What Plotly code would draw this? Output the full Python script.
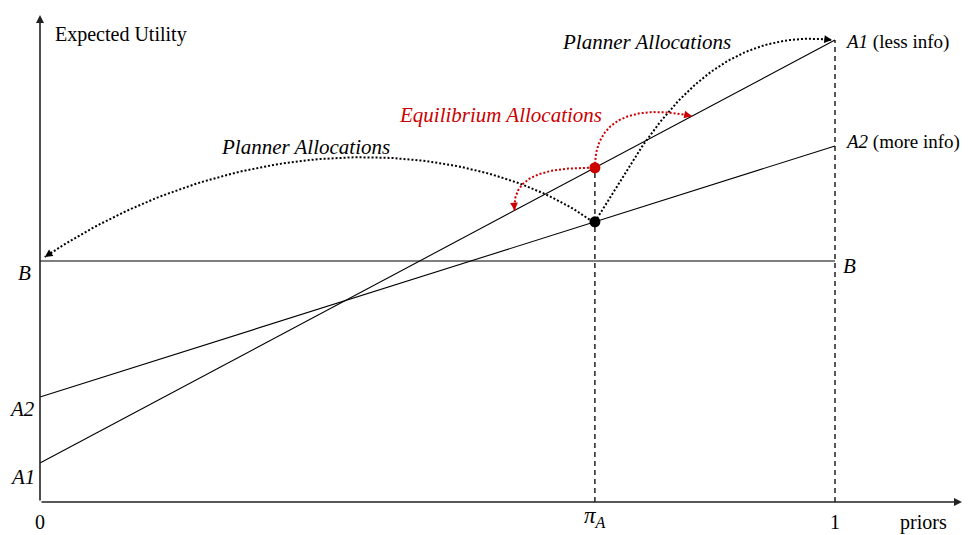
import numpy as np
import plotly.graph_objects as go

# ---- data (model values) ----
priors = [0.0, 1.0]              # prior endpoints
A1_vals = [0.39, 4.62]           # A1 (less info) utility at priors 0 and 1
A2_vals = [1.05, 3.56]           # A2 (more info) utility at priors 0 and 1
B_val = 2.41                     # B (constant)
pi_A = 0.698                     # prior pi_A
x_ticks = [0.0, pi_A, 1.0]
x_tick_labels = ["0", "<i>π<sub>A</sub></i>", "1"]

# ---- pixel <-> data mapping (screen pixels; page body has an 8px offset) ----
OFF = 8
WIN_W, WIN_H = 972, 535
W, H = WIN_W - OFF, WIN_H - OFF
X0PX, X1PX, Y0PX, YSCALE = 40, 835, 502, 100.0
def px2x(p): return (p - X0PX) / (X1PX - X0PX)
def py2y(p): return (Y0PX - p) / YSCALE
def x2px(x): return X0PX + x * (X1PX - X0PX)
def y2py(y): return Y0PX - y * YSCALE

def lin(vals, x):
    return vals[0] + (vals[1] - vals[0]) * x

A1_pi = lin(A1_vals, pi_A)
A2_pi = lin(A2_vals, pi_A)

SERIF = "Liberation Serif, Times New Roman, serif"
fig = go.Figure()

# main lines
fig.add_trace(go.Scatter(x=priors, y=[B_val, B_val], mode="lines",
                         line=dict(color="#7f7f7f", width=2), hoverinfo="skip"))
fig.add_trace(go.Scatter(x=priors, y=A1_vals, mode="lines",
                         line=dict(color="black", width=1.1), hoverinfo="skip"))
fig.add_trace(go.Scatter(x=priors, y=A2_vals, mode="lines",
                         line=dict(color="black", width=1.1), hoverinfo="skip"))
# dashed verticals
fig.add_trace(go.Scatter(x=[pi_A, pi_A], y=[0, A1_pi], mode="lines",
                         line=dict(color="black", width=1.3, dash="5px,4px"), hoverinfo="skip"))
fig.add_trace(go.Scatter(x=[1, 1], y=[0, A1_vals[1]], mode="lines",
                         line=dict(color="black", width=1.3, dash="5px,4px"), hoverinfo="skip"))

# curved dotted arrows (cubic bezier, control points in pixel space, anchored on the model points)
def bezier(p0, p1, p2, p3, n=80):
    t = np.linspace(0, 1, n)[:, None]
    P = ((1 - t) ** 3) * np.array(p0) + 3 * ((1 - t) ** 2) * t * np.array(p1) \
        + 3 * (1 - t) * t ** 2 * np.array(p2) + t ** 3 * np.array(p3)
    return P

bpt = (x2px(pi_A), y2py(A2_pi))
rpt = (x2px(pi_A), y2py(A1_pi))
curves = [
    # (start, c1, c2, end, color)
    ((bpt[0] - 2, bpt[1]), (480, 140), (250, 120), (x2px(0.006), y2py(B_val + 0.04)), "black"),
    (bpt, (640, 150), (700, 25), (x2px(1) - 3, y2py(A1_vals[1])), "black"),
    ((rpt[0], rpt[1] - 4), (597, 115), (640, 105), (x2px(0.82), y2py(lin(A1_vals, 0.82))), "#cc0000"),
    ((rpt[0] - 6, rpt[1]), (540, 168), (512, 178), (x2px(0.597), y2py(lin(A1_vals, 0.597))), "#cc0000"),
]
for p0, p1, p2, p3, col in curves:
    P = bezier(p0, p1, p2, p3)
    fig.add_trace(go.Scatter(x=px2x(P[:, 0]), y=py2y(P[:, 1]), mode="lines",
                             line=dict(color=col, width=2, dash="2px,2px"), hoverinfo="skip"))
    d = np.array(p3) - np.array(p2)
    d = d / np.linalg.norm(d)
    fig.add_annotation(x=px2x(p3[0]), y=py2y(p3[1]), ax=-d[0] * 9, ay=-d[1] * 9,
                       xref="x", yref="y", showarrow=True, arrowhead=2, arrowsize=1.1,
                       arrowwidth=1.4, arrowcolor=col, text="")

# dots
fig.add_trace(go.Scatter(x=[pi_A], y=[A1_pi], mode="markers",
                         marker=dict(color="#cc0000", size=11), hoverinfo="skip"))
fig.add_trace(go.Scatter(x=[pi_A], y=[A2_pi], mode="markers",
                         marker=dict(color="black", size=11), hoverinfo="skip"))

# axes with arrows
fig.add_annotation(x=px2x(962), y=0, ax=px2x(40), ay=0, axref="x", ayref="y",
                   xref="x", yref="y", showarrow=True, arrowhead=2, arrowsize=1,
                   arrowwidth=1.6, arrowcolor="#222", text="")
fig.add_annotation(x=0, y=py2y(15), ax=0, ay=0, axref="x", ayref="y",
                   xref="x", yref="y", showarrow=True, arrowhead=2, arrowsize=1,
                   arrowwidth=1.6, arrowcolor="#222", text="")

def label(text, xpx, ypx, size=20, color="black", anchor="center"):
    fig.add_annotation(x=px2x(xpx), y=py2y(ypx), text=text, showarrow=False,
                       xanchor=anchor, yanchor="middle",
                       font=dict(family=SERIF, size=size, color=color))

label("Expected Utility", 53, 34, size=20, anchor="left")
label("<i>Planner Allocations</i>", 646, 42, size=21)
label("<i>A1</i> (less info)", 843, 42, size=19, anchor="left")
label("<i>A2</i> (more info)", 843, 142, size=19, anchor="left")
label("<i>Equilibrium Allocations</i>", 500, 115, size=21, color="#cc0000")
label("<i>Planner Allocations</i>", 305, 147, size=21)
label("<i>B</i>", 24, 273, size=21)
label("<i>B</i>", 849, 266, size=21)
label("<i>A2</i>", 22, 409, size=21)
label("<i>A1</i>", 22, 477, size=21)
label("priors", 923, 522, size=20)

for xv, txt in zip(x_ticks, x_tick_labels):
    is_pi = "π" in txt
    fig.add_annotation(x=xv, y=py2y(517 if is_pi else 522), text=txt, showarrow=False,
                       xanchor="center", yanchor="middle",
                       font=dict(family=SERIF, size=23 if is_pi else 20, color="black"))

fig.update_layout(
    width=W, height=H, margin=dict(l=0, r=0, t=0, b=0),
    paper_bgcolor="white", plot_bgcolor="white", showlegend=False,
    xaxis=dict(range=[px2x(OFF), px2x(WIN_W)], visible=False, fixedrange=True),
    yaxis=dict(range=[py2y(WIN_H), py2y(OFF)], visible=False, fixedrange=True),
)
fig.write_html("out.html")
